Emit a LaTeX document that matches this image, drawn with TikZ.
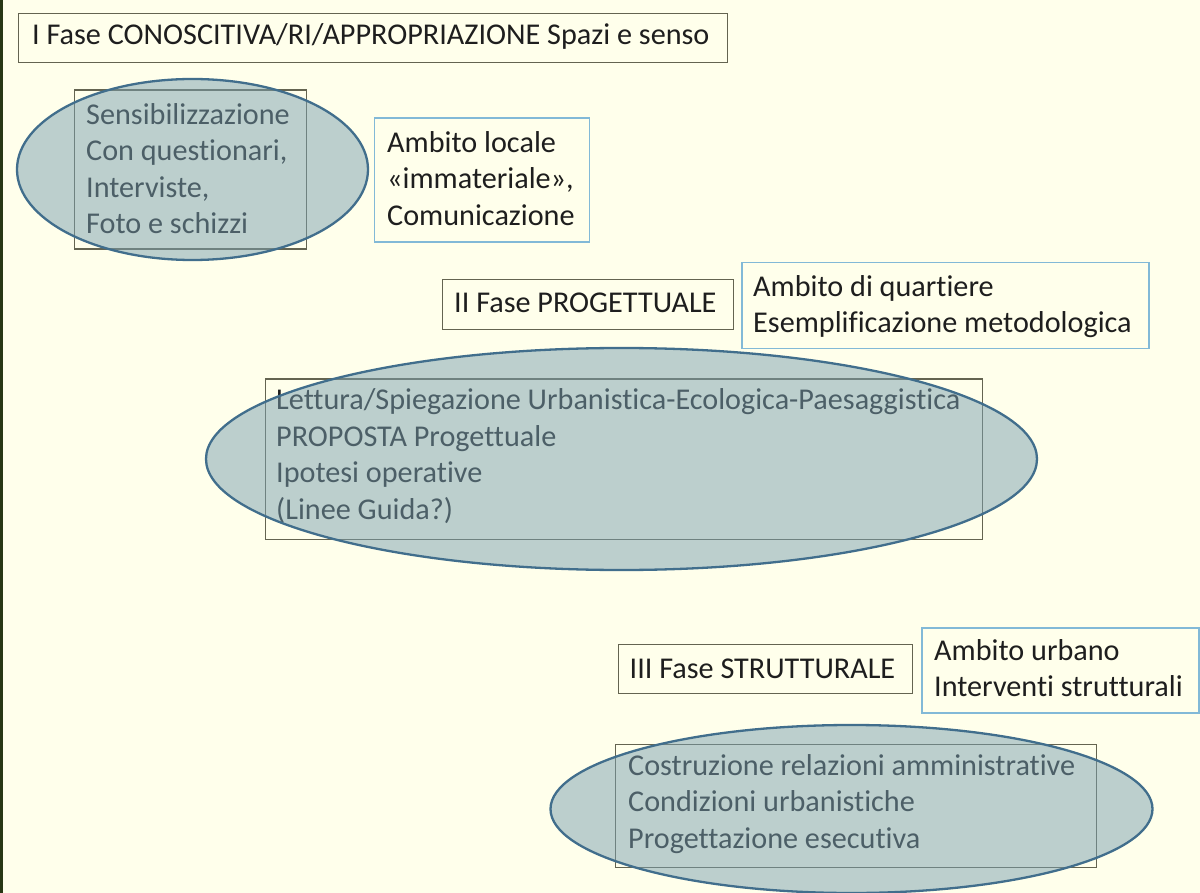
\documentclass[tikz,border=0pt]{standalone}
\usepackage{fontspec}
\setmainfont{Carlito}[Ligatures=NoCommon]
\usetikzlibrary{shapes.geometric}
\definecolor{bgcol}{RGB}{255,255,235}
\definecolor{edgecol}{RGB}{40,55,20}
\definecolor{rectcol}{RGB}{100,100,80}
\definecolor{bluebox}{RGB}{130,185,215}
\definecolor{ellfill}{RGB}{122,160,176}
\definecolor{elldraw}{RGB}{65,110,140}
\definecolor{txtcol}{RGB}{30,30,30}
\tikzset{
  rbox/.style={draw=rectcol, line width=1.3pt, anchor=north west, inner sep=0pt},
  bbox/.style={draw=bluebox, line width=1.5pt, anchor=north west, inner sep=0pt},
  txt/.style={text=txtcol, font=\fontsize{30.2}{36.5}\selectfont, inner sep=0pt, align=left},
  oval/.style={ellipse, draw=elldraw, line width=2.3pt, fill=ellfill, fill opacity=0.5, draw opacity=1, inner sep=0pt}
}
\begin{document}
\begin{tikzpicture}[x=1pt,y=-1pt]
\fill[bgcol] (0,0) rectangle (1200,893);
\useasboundingbox (0,0) rectangle (1200,893);
\fill[edgecol] (0,0) rectangle (2.5,893);
% Phase I
\node[rbox, minimum width=709, minimum height=49] (f1) at (17.5,13) {};
\node[txt, anchor=base west] (f1t) at (32,45) {I Fase CONOSCITIVA/RI/APPROPRIAZIONE Spazi e senso};
\node[rbox, minimum width=232, minimum height=159] (r1) at (73.5,89.5) {};
\node[txt, anchor=north west] (r1t) at (86,98.5) {\strut Sensibilizzazione\\Con questionari,\\Interviste,\\Foto e schizzi};
\node[bbox, minimum width=215, minimum height=124] (b1) at (373.5,117.5) {};
\node[txt, anchor=north west] (b1t) at (387,126.5) {\strut Ambito locale\\«immateriale»,\\Comunicazione};
% Phase II
\node[rbox, minimum width=291, minimum height=50] (f2) at (442,279) {};
\node[txt, anchor=base west] (f2t) at (454,313) {II Fase PROGETTUALE};
\node[bbox, minimum width=407, minimum height=86] (b2) at (741,262) {};
\node[txt, anchor=north west] (b2t) at (753,270.5) {\strut Ambito di quartiere\\Esemplificazione metodologica};
\node[rbox, minimum width=717, minimum height=160] (r2) at (265,378.5) {};
\node[txt, anchor=north west] (r2t) at (276,384) {\strut Lettura/Spiegazione Urbanistica-Ecologica-Paesaggistica\\PROPOSTA Progettuale\\Ipotesi operative\\(Linee Guida?)};
% Phase III
\node[rbox, minimum width=294, minimum height=49] (f3) at (617.5,644) {};
\node[txt, anchor=base west] (f3t) at (629.5,678) {III Fase STRUTTURALE};
\node[bbox, minimum width=277, minimum height=85] (b3) at (921,627) {};
\node[txt, anchor=north west] (b3t) at (934,634.5) {\strut Ambito urbano\\Interventi strutturali};
\node[rbox, minimum width=481, minimum height=123] (r3) at (615,743.5) {};
\node[txt, anchor=north west] (r3t) at (628,749.5) {\strut Costruzione relazioni amministrative\\Condizioni urbanistiche\\Progettazione esecutiva};
% ellipses on top
\node[oval, minimum width=351, minimum height=181] (e1) at (192.5,169.5) {};
\node[oval, minimum width=831, minimum height=222] (e2) at (621.5,459) {};
\node[oval, minimum width=602, minimum height=168] (e3) at (851.5,809) {};
\end{tikzpicture}
\end{document}
